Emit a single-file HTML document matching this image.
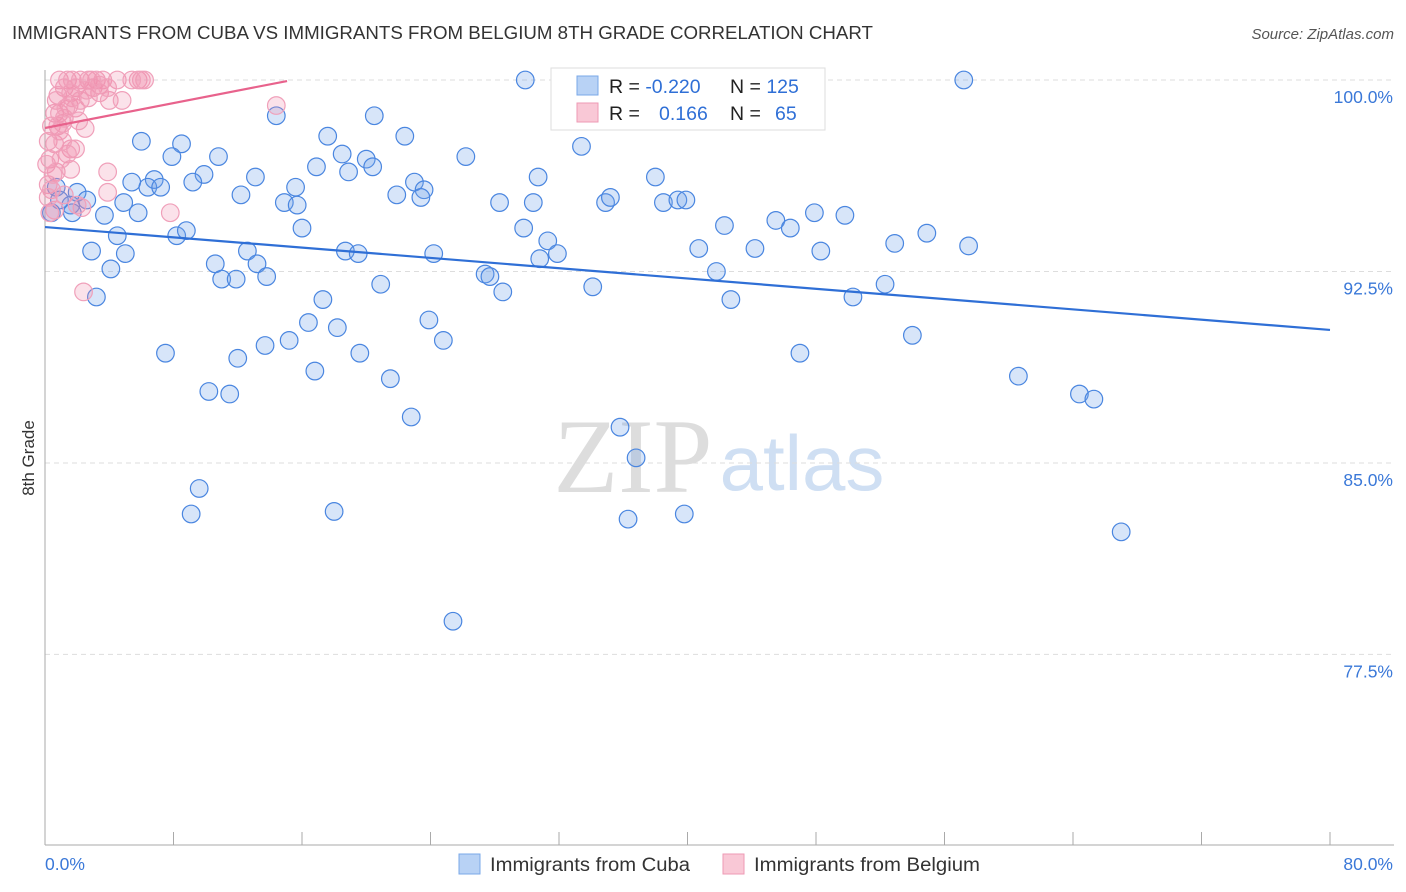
<!DOCTYPE html>
<html><head><meta charset="utf-8"><style>
body{margin:0;background:#fff;font-family:"Liberation Sans",sans-serif}
#wrap{position:relative;width:1406px;height:892px;overflow:hidden}
</style></head><body>
<div id="wrap">
<svg id="svg" width="1406" height="892" xmlns="http://www.w3.org/2000/svg">
<text x="12" y="39" font-size="18" fill="#333" textLength="861" lengthAdjust="spacingAndGlyphs">IMMIGRANTS FROM CUBA VS IMMIGRANTS FROM BELGIUM 8TH GRADE CORRELATION CHART</text>
<text x="1394" y="39" font-size="15" fill="#555" font-style="italic" text-anchor="end">Source: ZipAtlas.com</text>
<text x="34" y="458" font-size="17" fill="#333" transform="rotate(-90 34 458)" text-anchor="middle">8th Grade</text>
<g>
<text x="633" y="492" font-size="106" font-family="Liberation Serif,serif" fill="#ddd" text-anchor="middle">ZIP</text>
<text x="802" y="490" font-size="78" fill="#cfdff3" text-anchor="middle">atlas</text>
</g>
<g id="grid"></g>
<g id="axes"></g>
<g id="pts"></g>
<g id="lines"></g>
<g>
<rect x="551" y="68" width="274" height="62" fill="#fff" stroke="#ddd"/>
<rect x="577" y="76" width="21" height="19" fill="#b8d2f5" stroke="#7aa8e8"/>
<rect x="577" y="103" width="21" height="19" fill="#f9c8d6" stroke="#ee9ab4"/>
<text x="609" y="93" font-size="19.5" fill="#222">R = <tspan fill="#2f6fd6">-0.220</tspan></text>
<text x="730" y="93" font-size="19.5" fill="#222">N = <tspan fill="#2f6fd6">125</tspan></text>
<text x="609" y="120" font-size="19.5" fill="#222">R = </text><text x="659" y="120" font-size="19.5" fill="#2f6fd6">0.166</text>
<text x="730" y="120" font-size="19.5" fill="#222">N = </text><text x="775" y="120" font-size="19.5" fill="#2f6fd6">65</text>
</g>
<g>
<rect x="459" y="854" width="21" height="20" fill="#b8d2f5" stroke="#7aa8e8"/>
<text x="490" y="871" font-size="19" fill="#333" textLength="200" lengthAdjust="spacingAndGlyphs">Immigrants from Cuba</text>
<rect x="723" y="854" width="21" height="20" fill="#f9c8d6" stroke="#ee9ab4"/>
<text x="754" y="871" font-size="19" fill="#333" textLength="226" lengthAdjust="spacingAndGlyphs">Immigrants from Belgium</text>
</g>
</svg>
</div>
<script>
const cubaX=[29.9,57.2,14.4,20.5,6.0,8.5,17.6,22.4,33.4,7.9,10.8,18.5,20.0,26.2,16.9,18.9,20.4,13.1,9.9,5.4,6.8,6.4,7.2,9.2,23.0,30.7,38.0,0.7,2.0,15.6,12.2,23.6,21.9,23.4,14.9,15.7,28.3,30.4,34.9,35.2,38.5,39.4,39.9,0.9,1.6,2.6,0.4,1.7,3.7,4.9,5.8,42.3,45.5,46.4,47.9,49.8,16.0,29.8,4.5,8.2,8.8,2.9,5.0,12.6,18.7,19.5,24.2,31.3,30.8,31.9,40.7,44.2,48.3,52.9,54.9,57.5,4.1,10.6,13.2,11.0,11.9,13.8,20.9,27.4,27.7,28.5,34.1,41.8,52.3,3.2,17.3,42.7,50.3,16.4,18.2,23.9,7.5,13.7,15.2,19.6,24.8,12.0,47.0,54.0,16.8,21.5,10.2,11.5,60.6,64.4,65.3,22.8,35.8,36.8,9.6,9.1,18.0,36.3,39.8,67.0,25.4];
const cubaY=[100.0,100.0,98.6,98.6,97.6,97.5,97.8,97.8,97.4,97.0,97.0,97.1,96.9,97.0,96.6,96.4,96.6,96.2,96.3,96.0,96.1,95.8,95.8,96.0,96.0,96.2,96.2,95.8,95.6,95.8,95.5,95.7,95.5,95.4,95.2,95.1,95.2,95.2,95.2,95.4,95.2,95.3,95.3,95.3,95.1,95.3,94.8,94.8,94.7,95.2,94.8,94.3,94.5,94.2,94.8,94.7,94.2,94.2,93.9,93.9,94.1,93.3,93.2,93.3,93.3,93.2,93.2,93.7,93.0,93.2,93.4,93.4,93.3,93.6,94.0,93.5,92.6,92.8,92.8,92.2,92.2,92.3,92.0,92.4,92.3,91.7,91.9,92.5,92.0,91.5,91.4,91.4,91.5,90.5,90.3,90.6,89.3,89.6,89.8,89.3,89.8,89.1,89.3,90.0,88.6,88.3,87.8,87.7,88.4,87.7,87.5,86.8,86.4,85.2,84.0,83.0,83.1,82.8,83.0,82.3,78.8];
const belX=[0.9,1.4,1.7,2.2,2.7,3.2,3.6,4.5,5.8,6.0,6.2,1.2,1.9,3.0,3.4,0.8,1.6,3.4,4.0,2.7,0.6,0.9,1.5,1.9,0.4,0.8,1.1,2.5,0.2,0.6,1.6,1.9,0.3,1.4,0.1,0.7,1.6,3.9,0.2,0.4,1.2,3.9,2.3,0.6,2.0,7.8,2.4,14.4,0.9,1.2,2.2,0.3,4.8,2.9,5.4,2.6,3.9,0.7,1.1,1.7,2.1,0.5,1.0,1.3,0.2];
const belY=[100,100,100,100,100,100,100,100,100,100,100,99.7,99.7,99.7,99.8,99.4,99.5,99.5,99.2,99.3,98.7,98.7,99.0,98.9,98.2,98.2,98.3,98.1,97.6,97.5,97.3,97.3,96.9,97.1,96.7,96.4,96.5,96.4,95.9,95.7,95.5,95.6,95.0,94.9,95.1,94.8,91.7,99.0,98.0,98.5,99.2,94.8,99.2,100,100,99.6,99.7,99.2,97.6,99.3,98.4,96.3,96.9,98.9,95.4];
const yTicks=[100,92.5,85,77.5];
const xTickLabels=["0.0%","80.0%"];
const cubaTrend=[94.24,90.21]; // y at x=0 and x=80
const belTrend=[98.12,99.96];   // y at x=0 and x=15.07
const NS="http://www.w3.org/2000/svg";
const X=v=>45+v/80*1285;
const Y=v=>80+(100-v)*25.53;
function mk(t,a,p){const e=document.createElementNS(NS,t);for(const k in a)e.setAttribute(k,a[k]);p.appendChild(e);return e;}
const grid=document.getElementById('grid'),axes=document.getElementById('axes');
yTicks.forEach(t=>{
 const l=mk('line',{x1:45,x2:1394,y1:Y(t),y2:Y(t),stroke:'#ddd','stroke-dasharray':'5,4'},grid);
 
 
 const tx=mk('text',{x:1393,y:Y(t)+23,'font-size':17.5,fill:'#3a78d8','text-anchor':'end'},axes);
 tx.textContent=t.toFixed(1)+'%';
 
 
});
mk('line',{x1:45,x2:45,y1:70,y2:845,stroke:'#aaa'},axes);
mk('line',{x1:45,x2:1394,y1:845,y2:845,stroke:'#aaa'},axes);
for(let i=0;i<=10;i++){const t=mk('line',{x1:X(i*8),x2:X(i*8),y1:832,y2:845,stroke:'#aaa'},axes);
 
 }
const xl0=mk('text',{x:45,y:870,'font-size':17.5,fill:'#3a78d8'},axes);xl0.textContent=xTickLabels[0];


const xl1=mk('text',{x:1393,y:870,'font-size':17.5,fill:'#3a78d8','text-anchor':'end'},axes);xl1.textContent=xTickLabels[1];


const pts=document.getElementById('pts');
cubaX.forEach((x,i)=>{const c=mk('circle',{cx:X(x),cy:Y(cubaY[i]),r:8.8,fill:'rgba(110,160,235,0.28)',stroke:'#4a86e0','stroke-width':1.2},pts);
 
 });
belX.forEach((x,i)=>{const c=mk('circle',{cx:X(x),cy:Y(belY[i]),r:8.8,fill:'rgba(240,140,170,0.25)',stroke:'#f0a0ba','stroke-width':1.2},pts);
 
 });
const lines=document.getElementById('lines');
const l1=mk('line',{x1:X(0),y1:Y(cubaTrend[0]),x2:X(80),y2:Y(cubaTrend[1]),stroke:'#2f6fd6','stroke-width':2.2},lines);


const l2=mk('line',{x1:X(0),y1:Y(belTrend[0]),x2:X(15.07),y2:Y(belTrend[1]),stroke:'#e8628c','stroke-width':2.2},lines);


</script>
</body></html>
